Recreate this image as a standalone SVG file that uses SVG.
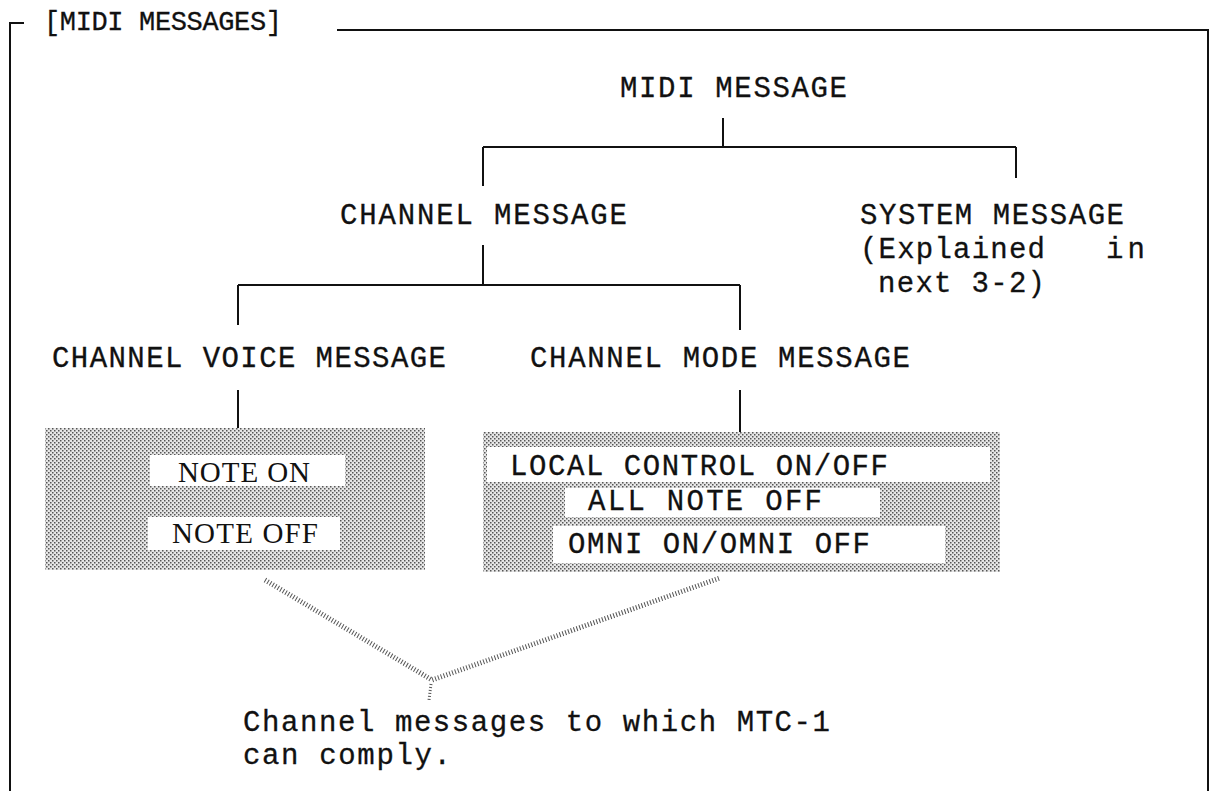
<svg xmlns="http://www.w3.org/2000/svg" width="1210" height="791" viewBox="0 0 1210 791">
<style>
.t{font-family:"Liberation Mono","DejaVu Sans Mono",monospace;font-size:29px;fill:#111;stroke:#111;stroke-width:0.3}
.s{font-family:"Liberation Serif","DejaVu Serif",serif;font-size:29px;fill:#111}
.ln{stroke:#111;stroke-width:2;fill:none}
.wb{fill:#fff}
.hatch{stroke:#555;stroke-width:5;stroke-dasharray:1 2;fill:none}
</style>
<defs>
<pattern id="dots" width="4" height="4" patternUnits="userSpaceOnUse">
<rect width="4" height="4" fill="#e6e6e6"/>
<rect x="0" y="0" width="1.5" height="1.5" fill="#555"/>
<rect x="2" y="2" width="1.5" height="1.5" fill="#555"/>
</pattern>
</defs>
<g id="frame">
<path class="ln" d="M24 23 H10 V791"/>
<path class="ln" d="M337 30 H1208 V791"/>
<text class="t" x="44" y="30" style="font-size:27px" textLength="238" lengthAdjust="spacing">[MIDI MESSAGES]</text>
</g>
<g id="connectors">
<path class="ln" d="M723 118 V147 M483 147 H1016 M483 147 V186 M1016 147 V178"/>
<path class="ln" d="M483 245 V285 M238 285 H740 M238 285 V325 M740 285 V330"/>
<path class="ln" d="M238 390 V428 M740 390 V432"/>
<path class="hatch" d="M265 580 L432 680 L720 578"/>
<path class="hatch" d="M431 684 L429 700" style="stroke-width:3"/>
</g>
<g id="midi-message"><text class="t" x="620" y="97" textLength="227" lengthAdjust="spacing">MIDI MESSAGE</text></g>
<g id="channel-message"><text class="t" x="340" y="224" textLength="287" lengthAdjust="spacing">CHANNEL MESSAGE</text></g>
<g id="system-message">
<text class="t" x="860" y="224" textLength="264" lengthAdjust="spacing">SYSTEM MESSAGE</text>
<text class="t" x="860" y="258" textLength="185" lengthAdjust="spacing">(Explained</text>
<text class="t" x="1106" y="258" textLength="39" lengthAdjust="spacing">in</text>
<text class="t" x="878" y="292" textLength="167" lengthAdjust="spacing">next 3-2)</text>
</g>
<g id="channel-voice-message"><text class="t" x="52" y="367" textLength="394" lengthAdjust="spacing">CHANNEL VOICE MESSAGE</text></g>
<g id="channel-mode-message"><text class="t" x="530" y="367" textLength="380" lengthAdjust="spacing">CHANNEL MODE MESSAGE</text></g>
<g id="voice-box">
<rect x="45" y="428" width="380" height="142" fill="url(#dots)"/>
<rect class="wb" x="150" y="455" width="195" height="31"/>
<text class="s" x="178" y="482" textLength="132" lengthAdjust="spacing">NOTE ON</text>
<rect class="wb" x="148" y="517" width="192" height="33"/>
<text class="s" x="172" y="543" textLength="146" lengthAdjust="spacing">NOTE OFF</text>
</g>
<g id="mode-box">
<rect x="483" y="432" width="517" height="140" fill="url(#dots)"/>
<rect class="wb" x="487" y="447" width="503" height="35"/>
<text class="t" x="510" y="475" textLength="378" lengthAdjust="spacing">LOCAL CONTROL ON/OFF</text>
<rect class="wb" x="565" y="488" width="315" height="29"/>
<text class="t" x="588" y="510" textLength="234" lengthAdjust="spacing">ALL NOTE OFF</text>
<rect class="wb" x="553" y="526" width="392" height="37"/>
<text class="t" x="568" y="553" textLength="302" lengthAdjust="spacing">OMNI ON/OMNI OFF</text>
</g>
<g id="caption">
<text class="t" x="243" y="731" textLength="587" lengthAdjust="spacing">Channel messages to which MTC-1</text>
<text class="t" x="243" y="764" textLength="208" lengthAdjust="spacing">can comply.</text>
</g>
</svg>
